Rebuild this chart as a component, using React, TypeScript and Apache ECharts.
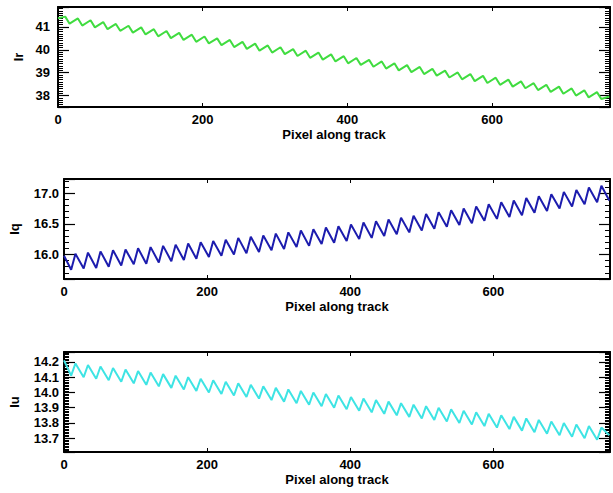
import React, { useEffect, useRef } from "react";
import * as echarts from "echarts";

// Pixel positions along track of the sawtooth vertices
const xVertices = [
  0, 10, 16, 27.5, 33.5, 45, 51, 62.5, 68.5, 80, 86, 97.5, 103.5, 115, 121, 132.5, 138.5,
  150, 156, 167.5, 173.5, 185, 191, 202.5, 208.5, 220, 226, 237.5, 243.5, 255, 261,
  272.5, 278.5, 290, 296, 307.5, 313.5, 325, 331, 342.5, 348.5, 360, 366, 377.5, 383.5,
  395, 401, 412.5, 418.5, 430, 436, 447.5, 453.5, 465, 471, 482.5, 488.5, 500, 506,
  517.5, 523.5, 535, 541, 552.5, 558.5, 570, 576, 587.5, 593.5, 605, 611, 622.5, 628.5,
  640, 646, 657.5, 663.5, 675, 681, 692.5, 698.5, 710, 716, 727.5, 733.5, 745, 751, 762,
];

const irValues = [
  41.38, 41.45, 41.14, 41.37, 41.06, 41.29, 40.98, 41.21, 40.9, 41.13, 40.83, 41.05, 40.75,
  40.98, 40.67, 40.9, 40.59, 40.82, 40.51, 40.74, 40.43, 40.66, 40.35, 40.58, 40.28, 40.5,
  40.2, 40.43, 40.12, 40.35, 40.04, 40.27, 39.96, 40.19, 39.88, 40.11, 39.81, 40.03, 39.73,
  39.96, 39.65, 39.88, 39.57, 39.8, 39.49, 39.72, 39.41, 39.64, 39.34, 39.56, 39.26, 39.49,
  39.18, 39.41, 39.1, 39.33, 39.02, 39.25, 38.94, 39.17, 38.87, 39.09, 38.79, 39.01, 38.71,
  38.94, 38.63, 38.86, 38.55, 38.78, 38.47, 38.7, 38.39, 38.62, 38.32, 38.54, 38.24, 38.47,
  38.16, 38.39, 38.08, 38.31, 38.0, 38.23, 37.92, 38.15, 37.85, 37.96,
];

const iqValues = [
  15.98, 15.75, 16.01, 15.77, 16.03, 15.78, 16.05, 15.8, 16.07, 15.82, 16.08, 15.84, 16.1,
  15.85, 16.12, 15.87, 16.14, 15.89, 16.16, 15.91, 16.18, 15.93, 16.2, 15.96, 16.22, 15.98,
  16.24, 16.0, 16.27, 16.02, 16.29, 16.04, 16.31, 16.07, 16.34, 16.09, 16.36, 16.12, 16.39,
  16.14, 16.41, 16.17, 16.44, 16.19, 16.46, 16.22, 16.49, 16.25, 16.52, 16.27, 16.54, 16.3,
  16.57, 16.33, 16.6, 16.36, 16.63, 16.39, 16.66, 16.42, 16.69, 16.45, 16.72, 16.48, 16.75,
  16.51, 16.78, 16.55, 16.82, 16.58, 16.85, 16.61, 16.88, 16.64, 16.92, 16.68, 16.95, 16.71,
  16.98, 16.75, 17.02, 16.78, 17.05, 16.82, 17.09, 16.85, 17.12, 16.88,
];

const iuValues = [
  14.21, 14.11, 14.19, 14.1, 14.18, 14.09, 14.17, 14.08, 14.16, 14.07, 14.15, 14.06, 14.14,
  14.05, 14.13, 14.04, 14.12, 14.03, 14.11, 14.02, 14.1, 14.01, 14.09, 14.0, 14.08, 13.99,
  14.07, 13.98, 14.06, 13.97, 14.05, 13.96, 14.04, 13.95, 14.03, 13.94, 14.02, 13.93, 14.01,
  13.92, 14.0, 13.91, 13.99, 13.9, 13.98, 13.89, 13.97, 13.88, 13.96, 13.87, 13.95, 13.86,
  13.94, 13.85, 13.93, 13.84, 13.92, 13.83, 13.91, 13.82, 13.9, 13.81, 13.89, 13.8, 13.88,
  13.79, 13.87, 13.78, 13.86, 13.77, 13.85, 13.76, 13.84, 13.75, 13.83, 13.74, 13.82, 13.73,
  13.81, 13.72, 13.8, 13.71, 13.79, 13.7, 13.78, 13.69, 13.77, 13.72,
];

const xTickStep = 200;
const xAxisName = "Pixel along track";

const FONT = "'Liberation Sans', Arial, Helvetica, sans-serif";

const panels = [
  { name: "Ir", values: irValues, color: "#40dc40", min: 37.5, max: 41.87, split: 5, step: 1, dec: 0, minorStep: 0.1, top: 7, nameGap: 33, labelMargin: 8 },
  { name: "Iq", values: iqValues, color: "#1c1cae", min: 15.6, max: 17.23, split: 3, step: 0.5, dec: 1, minorStep: 0.1, top: 179, nameGap: 43, labelMargin: 5 },
  { name: "Iu", values: iuValues, color: "#3ee4e4", min: 13.61, max: 14.265, split: 5, step: 0.1, dec: 1, minorStep: 0.01, top: 352, nameGap: 43, labelMargin: 5 },
];

export default function App() {
  const ref = useRef<HTMLDivElement>(null);
  useEffect(() => {
    if (!ref.current) return;
    const chart = echarts.init(ref.current, null, { renderer: "svg" });
    const textStyle = { color: "black", fontSize: 13, fontWeight: "bold" as const, fontFamily: FONT };
    const grid: any[] = [];
    const xAxis: any[] = [];
    const yAxis: any[] = [];
    const series: any[] = [];
    panels.forEach((p, i) => {
      grid.push({ left: 58, top: p.top, width: 554, height: 100 });
      const fmtX = (v: number) => (Math.abs(v / xTickStep - Math.round(v / xTickStep)) < 1e-6 ? String(Math.round(v)) : "");
      const xIdx = xAxis.length;
      xAxis.push({
        type: "value",
        gridIndex: i,
        min: 0,
        max: 763,
        interval: xTickStep,
        position: "bottom",
        axisLine: { show: true, onZero: false, lineStyle: { color: "black", width: 2 } },
        axisTick: { show: true, inside: true, length: 4, lineStyle: { color: "black", width: 1 } },
        splitLine: { show: false },
        name: xAxisName,
        nameLocation: "middle",
        nameGap: 21,
        nameTextStyle: textStyle,
        axisLabel: { ...textStyle, margin: 6, formatter: fmtX },
      });
      xAxis.push({
        type: "value",
        gridIndex: i,
        min: 0,
        max: 763,
        interval: xTickStep,
        position: "top",
        axisLine: { show: true, onZero: false, lineStyle: { color: "black", width: 2 } },
        axisTick: { show: true, inside: true, length: 4, lineStyle: { color: "black", width: 1 } },
        splitLine: { show: false },
        axisLabel: { show: false },
      });
      const fmtY = (v: number) => {
        const r = v / p.step;
        return Math.abs(r - Math.round(r)) < 1e-6 ? v.toFixed(p.dec) : "";
      };
      const yIdx = yAxis.length;
      (["left", "right"] as const).forEach((side) => {
        yAxis.push({
          type: "value",
          gridIndex: i,
          position: side,
          min: p.min,
          max: p.max,
          splitNumber: p.split,
          axisLine: { show: true, onZero: false, lineStyle: { color: "black", width: 2 } },
          axisTick: { show: true, inside: true, length: 11, lineStyle: { color: "black", width: 1.2 } },
          splitLine: { show: false },
          name: side === "left" ? p.name : undefined,
          nameLocation: "middle",
          nameGap: p.nameGap,
          nameTextStyle: textStyle,
          axisLabel: side === "left" ? { ...textStyle, margin: p.labelMargin, formatter: fmtY } : { show: false },
        });
        yAxis.push({
          type: "value",
          gridIndex: i,
          position: side,
          min: p.min,
          max: p.max,
          interval: p.minorStep,
          axisLine: { show: false, onZero: false },
          axisTick: { show: true, inside: true, length: 5, lineStyle: { color: "black", width: 1 } },
          axisLabel: { show: false },
          splitLine: { show: false },
        });
      });
      series.push({
        type: "line",
        xAxisIndex: xIdx,
        yAxisIndex: yIdx,
        data: xVertices.map((x, k) => [x, p.values[k]]),
        showSymbol: false,
        symbol: "none",
        lineStyle: { color: p.color, width: 2 },
        clip: true,
      });
    });
    chart.setOption({
      animation: false,
      backgroundColor: "#fff",
      grid,
      xAxis,
      yAxis,
      series,
    });
    return () => chart.dispose();
  }, []);
  return <div ref={ref} style={{ position: "fixed", left: 0, top: 0, width: 613, height: 493 }} />;
}
